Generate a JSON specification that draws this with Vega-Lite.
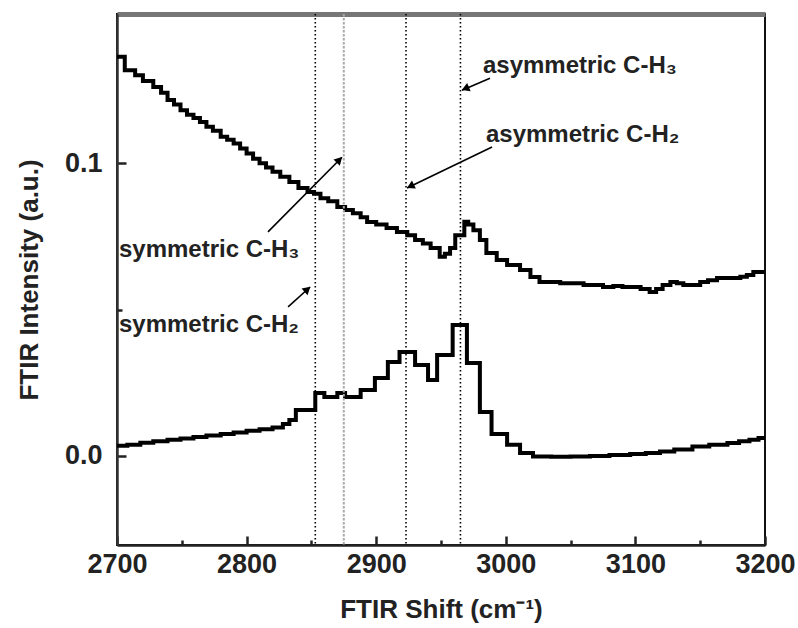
{
  "$schema": "https://vega.github.io/schema/vega-lite/v6.json",
  "width": 648,
  "height": 531,
  "autosize": {"type": "none"},
  "padding": {"left": 117, "top": 14, "right": 33, "bottom": 83},
  "background": "white",
  "config": {
    "view": {"stroke": "#111", "strokeWidth": 2},
    "font": "Liberation Sans"
  },
  "datasets": {
    "spectra": [
      {"series": "top", "shift": 2700, "intensity": 0.1363},
      {"series": "top", "shift": 2706, "intensity": 0.1317},
      {"series": "top", "shift": 2714, "intensity": 0.1300},
      {"series": "top", "shift": 2720, "intensity": 0.1280},
      {"series": "top", "shift": 2728, "intensity": 0.1260},
      {"series": "top", "shift": 2734, "intensity": 0.1240},
      {"series": "top", "shift": 2739, "intensity": 0.1215},
      {"series": "top", "shift": 2744, "intensity": 0.1200},
      {"series": "top", "shift": 2749, "intensity": 0.1180},
      {"series": "top", "shift": 2754, "intensity": 0.1165},
      {"series": "top", "shift": 2759, "intensity": 0.1154},
      {"series": "top", "shift": 2764, "intensity": 0.1140},
      {"series": "top", "shift": 2769, "intensity": 0.1124},
      {"series": "top", "shift": 2774, "intensity": 0.1110},
      {"series": "top", "shift": 2780, "intensity": 0.1090},
      {"series": "top", "shift": 2785, "intensity": 0.1080},
      {"series": "top", "shift": 2790, "intensity": 0.1067},
      {"series": "top", "shift": 2795, "intensity": 0.1050},
      {"series": "top", "shift": 2800, "intensity": 0.1033},
      {"series": "top", "shift": 2805, "intensity": 0.1015},
      {"series": "top", "shift": 2810, "intensity": 0.0999},
      {"series": "top", "shift": 2815, "intensity": 0.0985},
      {"series": "top", "shift": 2820, "intensity": 0.0970},
      {"series": "top", "shift": 2826, "intensity": 0.0953},
      {"series": "top", "shift": 2833, "intensity": 0.0935},
      {"series": "top", "shift": 2840, "intensity": 0.0915},
      {"series": "top", "shift": 2847, "intensity": 0.0901},
      {"series": "top", "shift": 2852, "intensity": 0.0895},
      {"series": "top", "shift": 2857, "intensity": 0.0880},
      {"series": "top", "shift": 2863, "intensity": 0.0870},
      {"series": "top", "shift": 2870, "intensity": 0.0850},
      {"series": "top", "shift": 2876, "intensity": 0.0840},
      {"series": "top", "shift": 2882, "intensity": 0.0829},
      {"series": "top", "shift": 2888, "intensity": 0.0815},
      {"series": "top", "shift": 2893, "intensity": 0.0799},
      {"series": "top", "shift": 2900, "intensity": 0.0790},
      {"series": "top", "shift": 2908, "intensity": 0.0778},
      {"series": "top", "shift": 2916, "intensity": 0.0765},
      {"series": "top", "shift": 2924, "intensity": 0.0754},
      {"series": "top", "shift": 2930, "intensity": 0.0737},
      {"series": "top", "shift": 2936, "intensity": 0.0725},
      {"series": "top", "shift": 2942, "intensity": 0.0710},
      {"series": "top", "shift": 2949, "intensity": 0.0680},
      {"series": "top", "shift": 2953, "intensity": 0.0690},
      {"series": "top", "shift": 2957, "intensity": 0.0710},
      {"series": "top", "shift": 2961, "intensity": 0.0754},
      {"series": "top", "shift": 2968, "intensity": 0.0800},
      {"series": "top", "shift": 2971, "intensity": 0.0790},
      {"series": "top", "shift": 2975, "intensity": 0.0771},
      {"series": "top", "shift": 2980, "intensity": 0.0737},
      {"series": "top", "shift": 2985, "intensity": 0.0693},
      {"series": "top", "shift": 2993, "intensity": 0.0669},
      {"series": "top", "shift": 3001, "intensity": 0.0652},
      {"series": "top", "shift": 3011, "intensity": 0.0635},
      {"series": "top", "shift": 3019, "intensity": 0.0611},
      {"series": "top", "shift": 3026, "intensity": 0.0594},
      {"series": "top", "shift": 3034, "intensity": 0.0594},
      {"series": "top", "shift": 3042, "intensity": 0.0590},
      {"series": "top", "shift": 3052, "intensity": 0.0590},
      {"series": "top", "shift": 3060, "intensity": 0.0584},
      {"series": "top", "shift": 3067, "intensity": 0.0584},
      {"series": "top", "shift": 3075, "intensity": 0.0577},
      {"series": "top", "shift": 3083, "intensity": 0.0580},
      {"series": "top", "shift": 3090, "intensity": 0.0577},
      {"series": "top", "shift": 3098, "intensity": 0.0577},
      {"series": "top", "shift": 3104, "intensity": 0.0570},
      {"series": "top", "shift": 3111, "intensity": 0.0560},
      {"series": "top", "shift": 3116, "intensity": 0.0570},
      {"series": "top", "shift": 3121, "intensity": 0.0584},
      {"series": "top", "shift": 3127, "intensity": 0.0594},
      {"series": "top", "shift": 3132, "intensity": 0.0590},
      {"series": "top", "shift": 3137, "intensity": 0.0584},
      {"series": "top", "shift": 3142, "intensity": 0.0584},
      {"series": "top", "shift": 3150, "intensity": 0.0594},
      {"series": "top", "shift": 3156, "intensity": 0.0600},
      {"series": "top", "shift": 3163, "intensity": 0.0608},
      {"series": "top", "shift": 3176, "intensity": 0.0608},
      {"series": "top", "shift": 3181, "intensity": 0.0612},
      {"series": "top", "shift": 3186, "intensity": 0.0618},
      {"series": "top", "shift": 3191, "intensity": 0.0628},
      {"series": "top", "shift": 3200, "intensity": 0.0628},
      {"series": "bottom", "shift": 2700, "intensity": 0.0035},
      {"series": "bottom", "shift": 2708, "intensity": 0.0038},
      {"series": "bottom", "shift": 2718, "intensity": 0.0045},
      {"series": "bottom", "shift": 2728, "intensity": 0.0050},
      {"series": "bottom", "shift": 2739, "intensity": 0.0055},
      {"series": "bottom", "shift": 2749, "intensity": 0.0060},
      {"series": "bottom", "shift": 2759, "intensity": 0.0065},
      {"series": "bottom", "shift": 2769, "intensity": 0.0070},
      {"series": "bottom", "shift": 2780, "intensity": 0.0075},
      {"series": "bottom", "shift": 2790, "intensity": 0.0080},
      {"series": "bottom", "shift": 2800, "intensity": 0.0086},
      {"series": "bottom", "shift": 2810, "intensity": 0.0091},
      {"series": "bottom", "shift": 2820, "intensity": 0.0097},
      {"series": "bottom", "shift": 2828, "intensity": 0.0109},
      {"series": "bottom", "shift": 2833, "intensity": 0.0123},
      {"series": "bottom", "shift": 2838, "intensity": 0.0157},
      {"series": "bottom", "shift": 2853, "intensity": 0.0215},
      {"series": "bottom", "shift": 2860, "intensity": 0.0201},
      {"series": "bottom", "shift": 2870, "intensity": 0.0215},
      {"series": "bottom", "shift": 2876, "intensity": 0.0201},
      {"series": "bottom", "shift": 2888, "intensity": 0.0225},
      {"series": "bottom", "shift": 2899, "intensity": 0.0266},
      {"series": "bottom", "shift": 2909, "intensity": 0.0321},
      {"series": "bottom", "shift": 2918, "intensity": 0.0355},
      {"series": "bottom", "shift": 2930, "intensity": 0.0311},
      {"series": "bottom", "shift": 2940, "intensity": 0.0259},
      {"series": "bottom", "shift": 2947, "intensity": 0.0345},
      {"series": "bottom", "shift": 2959, "intensity": 0.0447},
      {"series": "bottom", "shift": 2970, "intensity": 0.0317},
      {"series": "bottom", "shift": 2980, "intensity": 0.0150},
      {"series": "bottom", "shift": 2989, "intensity": 0.0075},
      {"series": "bottom", "shift": 3001, "intensity": 0.0038},
      {"series": "bottom", "shift": 3011, "intensity": 0.0010},
      {"series": "bottom", "shift": 3021, "intensity": -0.0002},
      {"series": "bottom", "shift": 3035, "intensity": -0.0003},
      {"series": "bottom", "shift": 3050, "intensity": -0.0002},
      {"series": "bottom", "shift": 3065, "intensity": 0.0000},
      {"series": "bottom", "shift": 3080, "intensity": 0.0003},
      {"series": "bottom", "shift": 3096, "intensity": 0.0007},
      {"series": "bottom", "shift": 3108, "intensity": 0.0010},
      {"series": "bottom", "shift": 3119, "intensity": 0.0015},
      {"series": "bottom", "shift": 3130, "intensity": 0.0022},
      {"series": "bottom", "shift": 3144, "intensity": 0.0032},
      {"series": "bottom", "shift": 3157, "intensity": 0.0038},
      {"series": "bottom", "shift": 3171, "intensity": 0.0044},
      {"series": "bottom", "shift": 3180, "intensity": 0.0050},
      {"series": "bottom", "shift": 3188, "intensity": 0.0055},
      {"series": "bottom", "shift": 3195, "intensity": 0.0061},
      {"series": "bottom", "shift": 3200, "intensity": 0.0061}
    ],
    "guidesBlack": [
      {"shift": 2853, "band": "symmetric C-H2"},
      {"shift": 2923, "band": "asymmetric C-H2"},
      {"shift": 2965, "band": "asymmetric C-H3"}
    ],
    "guidesGrey": [
      {"shift": 2875, "band": "symmetric C-H3"}
    ],
    "arrows": [
      {"band": "asymmetric C-H3", "shift": 2987.8, "intensity": 0.1290, "shift2": 2966.2, "intensity2": 0.1249},
      {"band": "asymmetric C-H2", "shift": 2989.4, "intensity": 0.1055, "shift2": 2923.8, "intensity2": 0.0915},
      {"band": "symmetric C-H3", "shift": 2816.5, "intensity": 0.0765, "shift2": 2873.6, "intensity2": 0.1020},
      {"band": "symmetric C-H2", "shift": 2832.0, "intensity": 0.0509, "shift2": 2849.0, "intensity2": 0.0577}
    ],
    "heads": [
      {"band": "asymmetric C-H3", "shift": 2969.7, "intensity": 0.1256, "dir": 247},
      {"band": "asymmetric C-H2", "shift": 2927.3, "intensity": 0.0923, "dir": 244},
      {"band": "symmetric C-H3", "shift": 2870.9, "intensity": 0.1008, "dir": 45},
      {"band": "symmetric C-H2", "shift": 2846.2, "intensity": 0.0566, "dir": 48}
    ],
    "labels": [
      {"label": "asymmetric C-H₃", "shift": 2982.4, "intensity": 0.1308},
      {"label": "asymmetric C-H₂", "shift": 2984.7, "intensity": 0.1073},
      {"label": "symmetric C-H₃", "shift": 2701.5, "intensity": 0.0678},
      {"label": "symmetric C-H₂", "shift": 2701.5, "intensity": 0.0424}
    ]
  },
  "resolve": {"axis": {"x": "independent", "y": "independent"}},
  "layer": [
    {
      "data": {"name": "spectra"},
      "mark": {"type": "line", "interpolate": "step-after", "strokeWidth": 4, "color": "#000", "clip": true},
      "encoding": {
        "x": {
          "field": "shift", "type": "quantitative",
          "scale": {"domain": [2700, 3200], "nice": false, "zero": false},
          "axis": {
            "orient": "bottom",
            "values": [2700, 2800, 2900, 3000, 3100, 3200],
            "format": "d",
            "grid": false,
            "tickSize": -9, "tickWidth": 2.5, "tickColor": "#222",
            "domainColor": "#222", "domainWidth": 2.5,
            "labelFont": "Liberation Sans", "labelFontSize": 27, "labelFontWeight": "bold", "labelColor": "#222",
            "labelPadding": 15, "labelFlush": false,
            "title": "FTIR Shift (cm⁻¹)",
            "titleFont": "Liberation Sans", "titleFontSize": 26, "titleFontWeight": "bold", "titleColor": "#222",
            "titlePadding": 19
          }
        },
        "y": {
          "field": "intensity", "type": "quantitative",
          "scale": {"domain": [-0.0304, 0.1509], "nice": false, "zero": false},
          "axis": {
            "orient": "left",
            "values": [0, 0.1],
            "format": ".1f",
            "grid": false,
            "tickSize": -9, "tickWidth": 2.5, "tickColor": "#222",
            "domainColor": "#333", "domainWidth": 2.5,
            "labelFont": "Liberation Sans", "labelFontSize": 27, "labelFontWeight": "bold", "labelColor": "#222",
            "labelPadding": 24,
            "title": "FTIR Intensity (a.u.)",
            "titleFont": "Liberation Sans", "titleFontSize": 26, "titleFontWeight": "bold", "titleColor": "#222",
            "titlePadding": 22
          }
        },
        "detail": {"field": "series", "type": "nominal"}
      }
    },
    {
      "data": {"name": "guidesBlack"},
      "mark": {"type": "rule", "strokeDash": [1.5, 2.5], "strokeWidth": 1.6, "color": "#000"},
      "encoding": {
        "x": {"field": "shift", "type": "quantitative", "axis": null}
      }
    },
    {
      "data": {"name": "guidesGrey"},
      "mark": {"type": "rule", "strokeDash": [2.5, 1.5], "strokeWidth": 2, "color": "#aaa"},
      "encoding": {
        "x": {"field": "shift", "type": "quantitative", "axis": null}
      }
    },
    {
      "data": {"name": "arrows"},
      "mark": {"type": "rule", "strokeWidth": 1.6, "color": "#000"},
      "encoding": {
        "x": {
          "field": "shift", "type": "quantitative",
          "axis": {
            "orient": "bottom",
            "values": [2750, 2850, 2950, 3050, 3150],
            "grid": false, "domain": false, "labels": false, "title": null,
            "tickSize": -5, "tickWidth": 2.5, "tickColor": "#222"
          }
        },
        "y": {
          "field": "intensity", "type": "quantitative",
          "axis": {
            "orient": "left",
            "values": [0.05],
            "grid": false, "domain": false, "labels": false, "title": null,
            "tickSize": -5, "tickWidth": 2.5, "tickColor": "#222"
          }
        },
        "x2": {"field": "shift2"},
        "y2": {"field": "intensity2"}
      }
    },
    {
      "data": {"name": "heads"},
      "mark": {"type": "point", "shape": "triangle", "filled": true, "size": 80, "color": "#000", "opacity": 1},
      "encoding": {
        "x": {
          "field": "shift", "type": "quantitative",
          "axis": {
            "orient": "top",
            "grid": false, "ticks": false, "labels": false, "title": null,
            "domainColor": "#777", "domainWidth": 5
          }
        },
        "y": {"field": "intensity", "type": "quantitative", "axis": null},
        "angle": {"field": "dir", "type": "quantitative", "scale": null}
      }
    },
    {
      "data": {"name": "labels"},
      "mark": {"type": "text", "align": "left", "baseline": "alphabetic", "font": "Liberation Sans", "fontSize": 24, "fontWeight": "bold", "color": "#222"},
      "encoding": {
        "x": {"field": "shift", "type": "quantitative", "axis": null},
        "y": {"field": "intensity", "type": "quantitative", "axis": null},
        "text": {"field": "label", "type": "nominal"}
      }
    }
  ]
}
